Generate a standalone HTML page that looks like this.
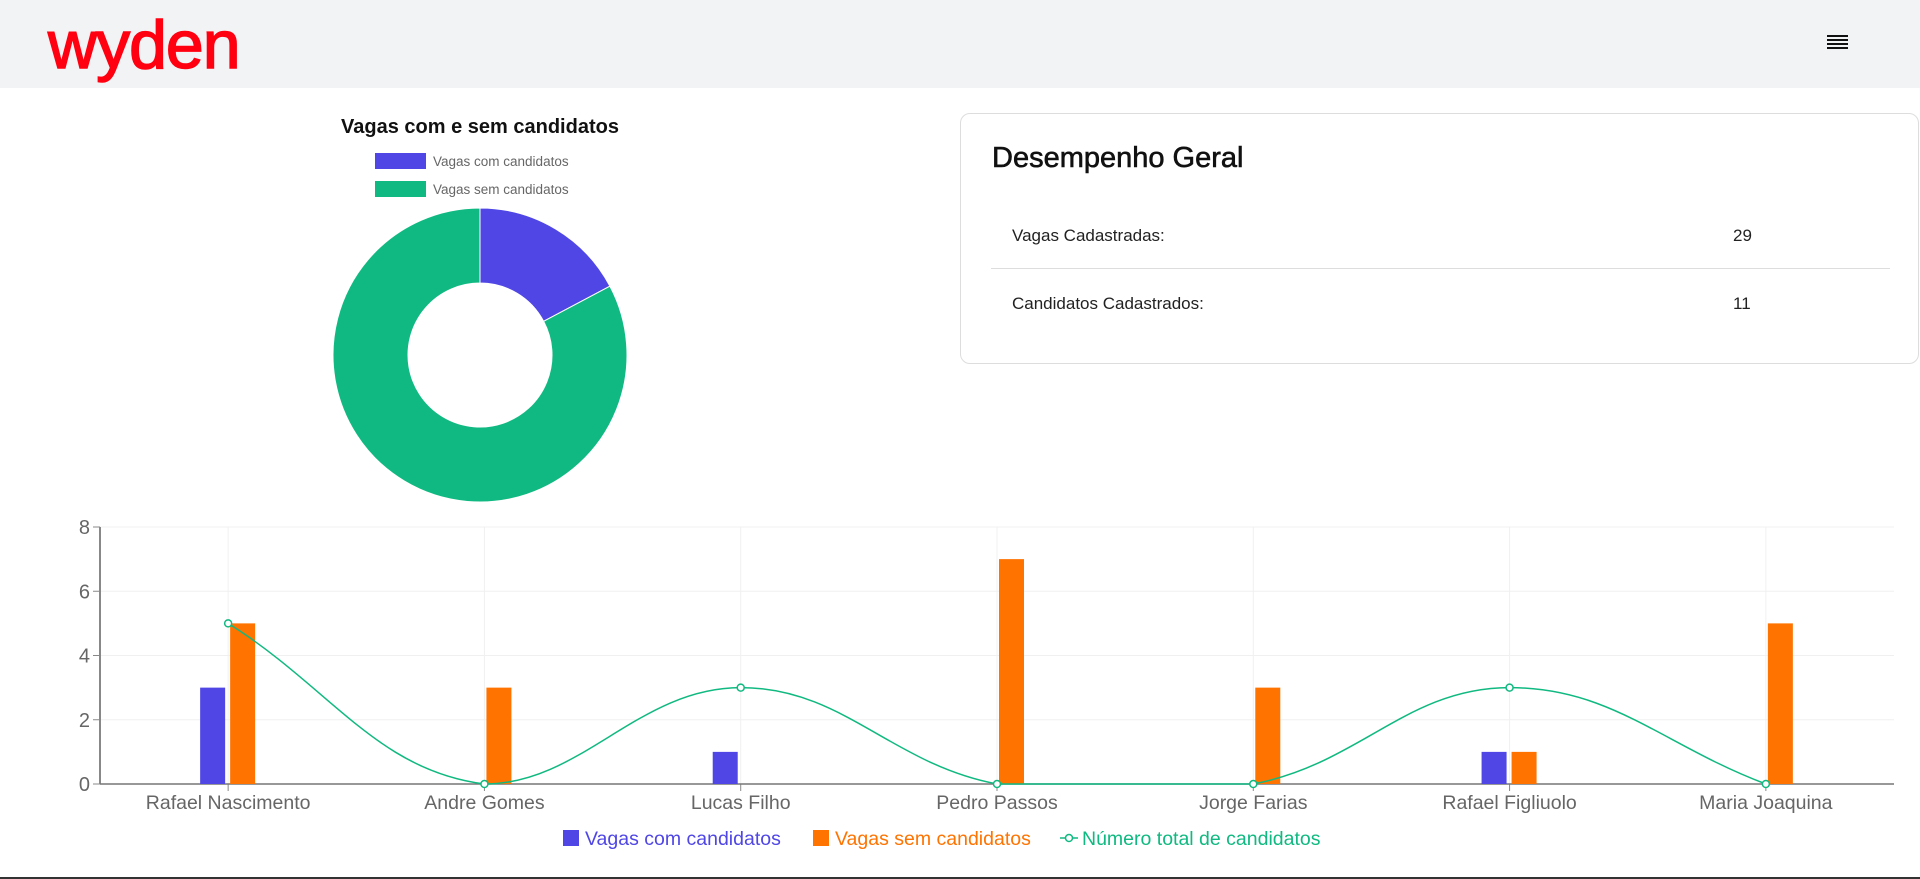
<!DOCTYPE html>
<html><head><meta charset="utf-8">
<style>
*{margin:0;padding:0;box-sizing:border-box}
body{width:1920px;height:879px;overflow:hidden;background:#fff;font-family:"Liberation Sans",sans-serif;position:relative}
.hdr{position:absolute;left:0;top:0;width:1920px;height:88px;background:#f2f3f5}
.logo{position:absolute;left:48px;top:6px;font-size:68px;font-weight:normal;color:#ff0010;letter-spacing:-1px;font-family:"Liberation Sans",sans-serif;-webkit-text-stroke:1.5px #ff0010}
.ham{position:absolute;left:1827px;top:35px;width:21px}
.ham div{height:2px;background:#111;margin-bottom:2px}
.card{position:absolute;left:960px;top:113px;width:959px;height:251px;border:1px solid #ddd;border-radius:10px;background:#fff}
.card h2{position:absolute;left:31px;top:28px;font-size:29px;font-weight:normal;color:#111;-webkit-text-stroke:0.6px #111}
.row{position:absolute;left:51px;font-size:17px;color:#222}
.val{position:absolute;font-size:17px;color:#222}
.div{position:absolute;left:30px;top:154px;width:899px;height:1px;background:#ddd}
svg text{font-family:"Liberation Sans",sans-serif}
</style></head><body>
<div class="hdr">
<div class="logo">wyden</div>
<div class="ham"><div></div><div></div><div></div><div></div></div>
</div>
<div class="card">
<h2>Desempenho Geral</h2>
<div class="row" style="top:112px">Vagas Cadastradas:</div>
<div class="val" style="left:772px;top:112px">29</div>
<div class="div"></div>
<div class="row" style="top:180px">Candidatos Cadastrados:</div>
<div class="val" style="left:772px;top:180px">11</div>
</div>
<svg id="donut" width="960" height="520" style="position:absolute;left:0;top:0"></svg>
<svg id="bar" width="1920" height="879" style="position:absolute;left:0;top:0"></svg>
<div style="position:absolute;left:0;top:877px;width:1920px;height:2px;background:#333"></div>
<script>
const donutLabels=["Vagas com candidatos","Vagas sem candidatos"];
const donutValues=[5,24];
const donutColors=["#4f46e5","#10b981"];
const categories=["Rafael Nascimento","Andre Gomes","Lucas Filho","Pedro Passos","Jorge Farias","Rafael Figliuolo","Maria Joaquina"];
const comValues=[3,0,1,0,0,1,0];
const semValues=[5,3,0,7,3,1,5];
const totalValues=[5,0,3,0,0,3,0];
const yTicks=[0,2,4,6,8];
const NS="http://www.w3.org/2000/svg";
function mk(p,t,a,txt){const e=document.createElementNS(NS,t);for(const k in a)e.setAttribute(k,a[k]);if(txt!=null)e.textContent=txt;p.appendChild(e);return e;}
const d=document.getElementById('donut');
let t=mk(d,'text',{x:480,y:133,'text-anchor':'middle','font-size':20,'font-weight':'bold',fill:'#111'},'Vagas com e sem candidatos');

donutLabels.forEach((l,i)=>{
 const y=153+i*28;
 const r=mk(d,'rect',{x:375,y:y,width:51,height:16,fill:donutColors[i]});
 
 const tx=mk(d,'text',{x:433,y:y+13,'font-size':13.5,fill:'#666'},l);
 
});
const cx=480,cy=355,R=147,r0=72,tot=donutValues.reduce((a,b)=>a+b,0);
let a0=-Math.PI/2;
donutValues.forEach((v,i)=>{
 const a1=a0+v/tot*2*Math.PI,lg=(a1-a0)>Math.PI?1:0;
 const p=`M${cx+R*Math.cos(a0)},${cy+R*Math.sin(a0)}A${R},${R} 0 ${lg} 1 ${cx+R*Math.cos(a1)},${cy+R*Math.sin(a1)}L${cx+r0*Math.cos(a1)},${cy+r0*Math.sin(a1)}A${r0},${r0} 0 ${lg} 0 ${cx+r0*Math.cos(a0)},${cy+r0*Math.sin(a0)}Z`;
 const s=mk(d,'path',{d:p,fill:donutColors[i],stroke:'#fff','stroke-width':1});
 
 a0=a1;
});
const b=document.getElementById('bar');
const L=100,Rt=1894,T=527,B=784,yMax=8;
const cw=(Rt-L)/categories.length;
const X=i=>L+cw*(i+0.5), Y=v=>B-(v/yMax)*(B-T);
yTicks.forEach(v=>{
 mk(b,'line',{x1:L,x2:Rt,y1:Y(v),y2:Y(v),stroke:'#f0f0f0'});
 mk(b,'line',{x1:L-7,x2:L,y1:Y(v),y2:Y(v),stroke:'#888'});
 const tx=mk(b,'text',{x:90,y:Y(v)+7,'text-anchor':'end','font-size':20,fill:'#666'},v);
 
});
categories.forEach((c,i)=>{
 mk(b,'line',{x1:X(i),x2:X(i),y1:T,y2:B,stroke:'#f0f0f0'});
 mk(b,'line',{x1:X(i),x2:X(i),y1:B,y2:B+7,stroke:'#888'});
 const tx=mk(b,'text',{x:X(i),y:809,'text-anchor':'middle','font-size':19.5,fill:'#666'},c);
 
});
mk(b,'line',{x1:L,x2:L,y1:T,y2:B,stroke:'#888','stroke-width':2});
mk(b,'line',{x1:L,x2:Rt,y1:B,y2:B,stroke:'#777','stroke-width':1.5});
const bw=25;
categories.forEach((c,i)=>{
 if(comValues[i]>0){const r=mk(b,'rect',{x:X(i)-28,y:Y(comValues[i]),width:bw,height:B-Y(comValues[i]),fill:'#4f46e5'});
 }
 if(semValues[i]>0){const r=mk(b,'rect',{x:X(i)+2,y:Y(semValues[i]),width:bw,height:B-Y(semValues[i]),fill:'#ff7300'});
 }
});
const pts=totalValues.map((v,i)=>[X(i),Y(v)]);
const tn=0.4;let path=`M${pts[0][0]},${pts[0][1]}`;
const cps=pts.map((p,i)=>{
 const pr=pts[i-1]||p,nx=pts[i+1]||p;
 const d01=Math.hypot(p[0]-pr[0],p[1]-pr[1]),d12=Math.hypot(nx[0]-p[0],nx[1]-p[1]);
 let fa=d01/(d01+d12)||0,fb=d12/(d01+d12)||0;fa*=tn;fb*=tn;
 return {prev:[p[0]-fa*(nx[0]-pr[0]),p[1]-fa*(nx[1]-pr[1])],next:[p[0]+fb*(nx[0]-pr[0]),p[1]+fb*(nx[1]-pr[1])]};
});
for(let i=1;i<pts.length;i++){
 const a=cps[i-1].next,c=cps[i].prev;
 path+=`C${a[0]},${Math.min(a[1],B)} ${c[0]},${Math.min(c[1],B)} ${pts[i][0]},${pts[i][1]}`;
}
const ln=mk(b,'path',{d:path,fill:'none',stroke:'#10b981','stroke-width':1.5});

pts.forEach(p=>{const c=mk(b,'circle',{cx:p[0],cy:p[1],r:3.5,fill:'#fff',stroke:'#10b981','stroke-width':1.5});
 });
const lg=[[563,'#4f46e5','Vagas com candidatos','rect'],[813,'#ff7300','Vagas sem candidatos','rect'],[1060,'#10b981','Número total de candidatos','line']];
lg.forEach(([x,col,txt,k])=>{
 let s;
 if(k==='rect')s=mk(b,'rect',{x:x,y:830,width:16,height:16,fill:col});
 else{mk(b,'line',{x1:x,x2:x+18,y1:838,y2:838,stroke:col,'stroke-width':1.5});s=mk(b,'circle',{cx:x+9,cy:838,r:3.5,fill:'#fff',stroke:col,'stroke-width':1.5});}
 
 const tx=mk(b,'text',{x:x+22,y:845,'font-size':19.5,fill:col},txt);
 
});
</script>
</body></html>
